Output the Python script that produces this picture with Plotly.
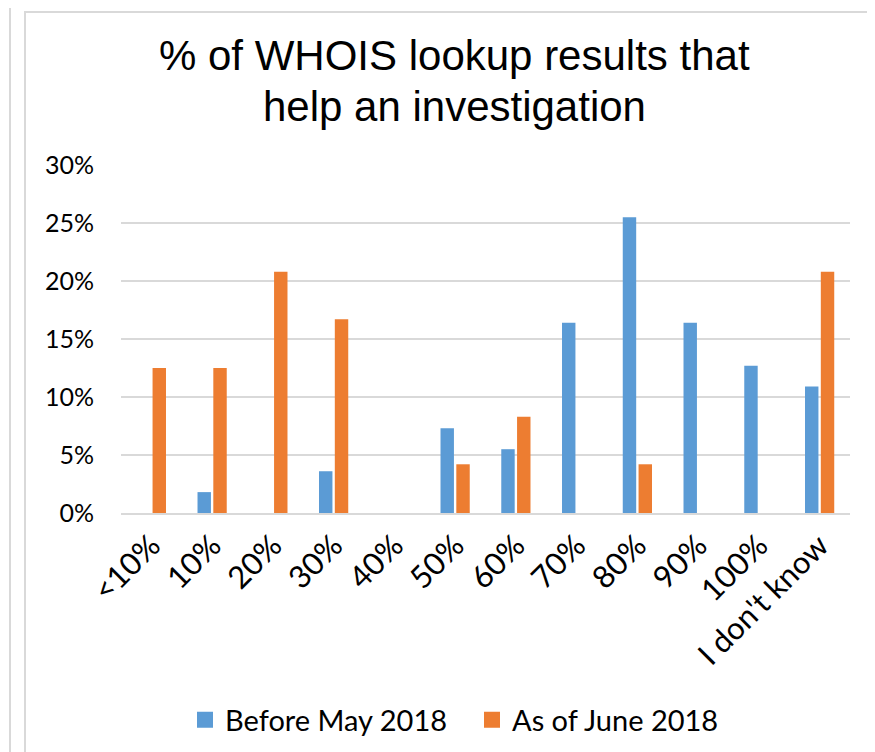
import plotly.graph_objects as go

categories = ["<10%", "10%", "20%", "30%", "40%", "50%", "60%", "70%", "80%", "90%", "100%", "I don't know"]
before_may_2018 = [0, 1.8, 0, 3.6, 0, 7.3, 5.5, 16.4, 25.5, 16.4, 12.7, 10.9]
as_of_june_2018 = [12.5, 12.5, 20.8, 16.7, 0, 4.2, 8.3, 0, 4.2, 0, 0, 20.8]
y_ticks = [0, 5, 10, 15, 20, 25, 30]
y_tick_labels = ["0%", "5%", "10%", "15%", "20%", "25%", "30%"]
title_lines = ["% of WHOIS lookup results that", "help an investigation"]
series_names = ["Before May 2018", "As of June 2018"]
series_colors = ["#5B9BD5", "#ED7D31"]

W, H = 875, 752
ML, MR, MT, MB = 113, 33, 157, 247
PW, PH = W - ML - MR, H - MT - MB

def px(x):
    return (x - ML) / PW

def py(y):
    return (H - MB - y) / PH

fig = go.Figure()
for name, vals, col in zip(series_names, [before_may_2018, as_of_june_2018], series_colors):
    fig.add_trace(go.Bar(name=name, x=categories, y=vals, showlegend=False,
                         marker=dict(color=col, line=dict(width=0))))
for name, col in zip(series_names, series_colors):
    fig.add_trace(go.Scatter(name=name, x=[None], y=[None], mode="markers",
                             marker=dict(symbol="square", size=16, color=col, line=dict(width=0))))

fig.update_layout(
    width=W, height=H,
    margin=dict(l=ML, r=MR, t=MT, b=MB),
    paper_bgcolor="white", plot_bgcolor="white",
    barmode="group", bargap=0.48, bargroupgap=0.15,
    showlegend=True,
    legend=dict(orientation="h", x=px(177), xanchor="left", y=py(712), yanchor="middle",
                font=dict(family="Lato", size=29, color="#000000"), entrywidth=242,
                itemsizing="trace", traceorder="normal", bgcolor="rgba(0,0,0,0)"),
    font=dict(family="Lato", color="#000000"),
)
fig.update_xaxes(showgrid=False, showline=True, linecolor="#d9d9d9", linewidth=2,
                 tickangle=-45, tickfont=dict(family="Lato", size=31, color="#000000"),
                 ticks="", fixedrange=True)
fig.update_yaxes(range=[0, 30], tickvals=y_ticks, ticktext=y_tick_labels,
                 showgrid=True, gridcolor="#d9d9d9", gridwidth=2, zeroline=False,
                 showline=False, ticks="", ticklabelstandoff=26,
                 tickfont=dict(family="Lato", size=25, color="#000000"), fixedrange=True)

for line, base in zip(title_lines, [62, 113]):
    fig.add_annotation(text=line, xref="paper", yref="paper", x=px(446), y=py(base - 14),
                       xanchor="center", yanchor="middle", showarrow=False,
                       font=dict(family="Liberation Sans", size=42, color="#000000"))

# chart frame lines
fig.add_shape(type="line", xref="paper", yref="paper", x0=px(2), x1=px(2), y0=py(0), y1=py(H + 5),
              line=dict(color="#d9d9d9", width=2))
fig.add_shape(type="rect", xref="paper", yref="paper", x0=px(17), x1=px(870), y0=py(4), y1=py(H + 10),
              line=dict(color="#d9d9d9", width=2))

fig.write_html("out.html")
